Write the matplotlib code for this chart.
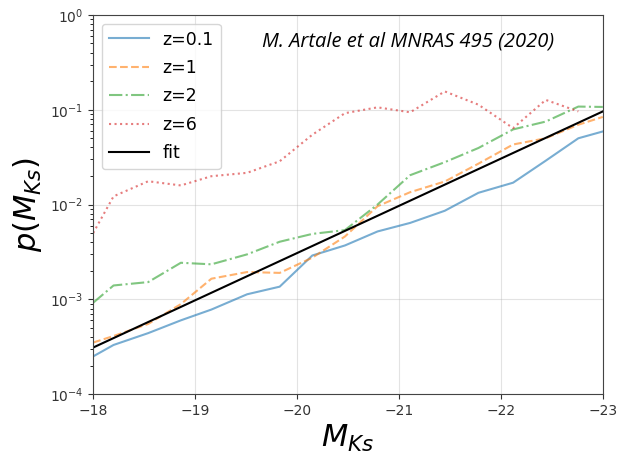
import matplotlib
matplotlib.use("Agg")
import matplotlib.pyplot as plt
import numpy as np

# magnitude bins
mag = [-18.0, -18.2, -18.54, -18.86, -19.16, -19.51, -19.83, -20.15, -20.47,
       -20.79, -21.11, -21.45, -21.78, -22.12, -22.44, -22.76, -23.0]

p_z01 = [2.5e-4, 3.3e-4, 4.4e-4, 6.0e-4, 7.8e-4, 1.13e-3, 1.36e-3, 2.9e-3, 3.7e-3,
         5.2e-3, 6.4e-3, 8.6e-3, 1.33e-2, 1.7e-2, 2.9e-2, 5.0e-2, 5.9e-2]
p_z1 = [3.5e-4, 4.1e-4, 5.5e-4, 8.9e-4, 1.65e-3, 1.94e-3, 1.9e-3, 2.75e-3, 4.6e-3,
        9.6e-3, 1.35e-2, 1.75e-2, 2.7e-2, 4.3e-2, 5.0e-2, 6.95e-2, 8.4e-2]
p_z2 = [9.2e-4, 1.4e-3, 1.52e-3, 2.43e-3, 2.34e-3, 2.98e-3, 4.05e-3, 4.9e-3, 5.37e-3,
        1.0e-2, 2.04e-2, 2.8e-2, 3.95e-2, 6.2e-2, 7.5e-2, 1.08e-1, 1.07e-1]
mag_z6 = mag[:-1]
p_z6 = [5.0e-3, 1.22e-2, 1.76e-2, 1.59e-2, 1.99e-2, 2.16e-2, 2.86e-2, 5.45e-2, 9.2e-2,
        1.06e-1, 9.4e-2, 1.56e-1, 1.13e-1, 6.4e-2, 1.27e-1, 9.6e-2]

fit_mag = [-18.0, -23.0]
fit_p = [3.1e-4, 9.6e-2]

fig = plt.figure(figsize=(6.17, 4.53), dpi=100)
ax = fig.add_axes([0.151, 0.13, 0.826, 0.837])

ax.plot(mag, p_z01, color='#1f77b4', alpha=0.6, lw=1.5, label='z=0.1')
ax.plot(mag, p_z1, color='#ff7f0e', alpha=0.6, lw=1.5, ls='--', label='z=1')
ax.plot(mag, p_z2, color='#2ca02c', alpha=0.6, lw=1.5, ls='-.', label='z=2')
ax.plot(mag_z6, p_z6, color='#d62728', alpha=0.6, lw=1.5, ls=':', label='z=6')
ax.plot(fit_mag, fit_p, color='k', lw=1.5, label='fit')

ax.set_yscale('log')
ax.set_ylim(1e-4, 1e0)
ax.set_xlim(-18, -23)
ax.set_xticks([-18, -19, -20, -21, -22, -23])
ax.grid(True, which='major', color='#b0b0b0', alpha=0.35, lw=0.8)
ax.tick_params(labelsize=10, colors='#333333')
for s in ax.spines.values():
    s.set_color('#444444')

ax.set_xlabel(r'$M_{Ks}$', fontsize=22)
ax.set_ylabel(r'$p(M_{Ks})$', fontsize=22)

ax.legend(loc='upper left', fontsize=12.5, handlelength=2.3, labelspacing=0.6)
ax.text(0.618, 0.929, 'M. Artale et al MNRAS 495 (2020)', transform=ax.transAxes,
        ha='center', va='center', fontsize=14.5, style='italic', family='Open Sans')

fig.savefig('out.png', dpi=100)
